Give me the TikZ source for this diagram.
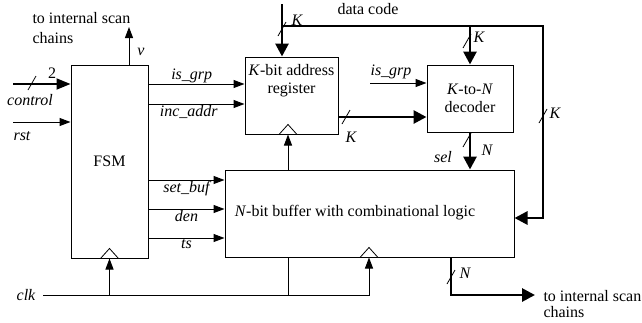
\documentclass[tikz,border=0pt]{standalone}
\usepackage{fontspec}
\setmainfont{Liberation Serif}
\usetikzlibrary{arrows.meta}

\begin{document}
\begin{tikzpicture}[x=1pt, y=-1pt, line width=1pt,
font=\fontsize{16}{18}\selectfont,
blk/.style={draw, rectangle, inner sep=0pt},
arr/.style={-{Triangle[length=11pt,width=8pt]}},
bus/.style={line width=2.8pt},
busarr/.style={bus, -{Triangle[length=13pt,width=13pt]}},
lbl/.style={font=\fontsize{16}{18}\selectfont\itshape, inner sep=1pt},
clkmark/.pic={\draw[line width=0.8pt] (-9,0) -- (0,-10) -- (9,0);},
busmark/.pic={\draw[line width=0.8pt] (-4,7) -- (4,-7);}]
\useasboundingbox (0,0) rectangle (642,322);

% blocks
\node[blk, minimum width=77pt, minimum height=193pt] (fsm) at (109.5,161.5) {FSM};
\node[blk, minimum width=93pt, minimum height=77pt] (reg) at (291.5,95.5) {};
\node[align=center, inner sep=0pt] (regtxt) at (291.5,81) {\textit{K}-bit address\\register};
\node[blk, minimum width=86pt, minimum height=67pt, align=center] (dec) at (470,98.5) {\textit{K}-to-\textit{N}\\decoder};
\node[blk, minimum width=289pt, minimum height=87pt] (buf) at (369.5,213.5) {};
\node (buftxt) at (355,213) {\textit{N}-bit buffer with combinational logic};

% FSM inputs and v output
\coordinate (ctl) at (13,84);
\coordinate (rst) at (13,122);
\coordinate (vout) at (129,27);
\draw[line width=1.8pt, -{Triangle[length=14pt,width=11pt]}] (ctl) -- (ctl -| fsm.west);
\pic at (32,83) {busmark};
\node (two) at (52,73) {2};
\node[lbl] (ctltxt) at (30,100) {control};
\draw[arr] (rst) -- (rst -| fsm.west);
\node[lbl] (rsttxt) at (22,136) {rst};
\draw[arr] (vout |- fsm.north) -- (vout);
\node[lbl] (vtxt) at (141,52) {v};
\node[anchor=north west, inner sep=0pt, align=left, font=\fontsize{16}{20}\selectfont] (scan1) at (32,12) {to internal scan\\chains};

% FSM to register and buffer
\draw[arr] (fsm.east |- 0,84) -- (reg.west |- 0,84) node[lbl, above, pos=0.45] {is\_grp};
\draw[arr] (fsm.east |- 0,104) -- (reg.west |- 0,104) node[lbl, below, pos=0.42] {inc\_addr};
\draw[arr] (fsm.east |- 0,180) -- (buf.west |- 0,180) node[lbl, below, midway] {set\_buf};
\draw[arr] (fsm.east |- 0,209) -- (buf.west |- 0,209) node[lbl, below, midway] {den};
\draw[arr] (fsm.east |- 0,238) -- (buf.west |- 0,238) node[lbl, below, midway] {ts};

% register to decoder
\draw[busarr] (reg.east |- 0,117) -- (dec.west |- 0,117);
\pic at (346,117) {busmark};
\node[lbl] (k1) at (351,137) {K};
\coordinate (isg) at (370,83);
\draw[arr] (isg) -- (isg -| dec.west);
\node[lbl] (isgtxt) at (391,72) {is\_grp};

% data code bus
\coordinate (din) at (282,4);
\coordinate (dj) at (282,26);
\coordinate (dr) at (543,26);
\draw[busarr] (din) -- (din |- reg.north);
\draw[busarr] (dj) -- (dr) |- (buf.east |- 0,218);
\draw[busarr] (dec.north |- dj) -- (dec.north);
\node (dcode) at (368,9) {data code};
\pic at (282,29) {busmark};
\node[lbl] (k2) at (297,20) {K};
\pic at (467,41) {busmark};
\node[lbl] (k3) at (479,37) {K};
\pic at (543,116) {busmark};
\node[lbl] (k4) at (555,113) {K};

% decoder to buffer
\draw[busarr] (dec.south) -- (dec.south |- buf.north);
\pic at (467,140) {busmark};
\node[lbl] (n1) at (487,150) {N};
\node[lbl] (seltxt) at (443,157) {sel};

% clock
\coordinate (clk) at (43,295);
\node[lbl] (clktxt) at (26,295) {clk};
\draw[arr] (clk) -| (buf.south -| 369,0);
\draw[arr] (fsm.south |- clk) -- (fsm.south);
\draw (clk -| 288,0) -- (buf.south -| 288,0);
\draw[arr] (buf.north -| 288,0) -- (reg.south -| 288,0);
\pic at (fsm.south) {clkmark};
\pic at (reg.south -| 288,0) {clkmark};
\pic at (buf.south -| 369,0) {clkmark};

% buffer output
\coordinate (bout) at (535,295);
\draw[busarr] (buf.south -| 451,0) |- (bout);
\pic at (451,277) {busmark};
\node[lbl] (n2) at (465,273) {N};
\node[anchor=north west, inner sep=0pt, align=left, font=\fontsize{16}{16}\selectfont] (scan2) at (543,290) {to internal scan\\chains};
\end{tikzpicture}
\end{document}
